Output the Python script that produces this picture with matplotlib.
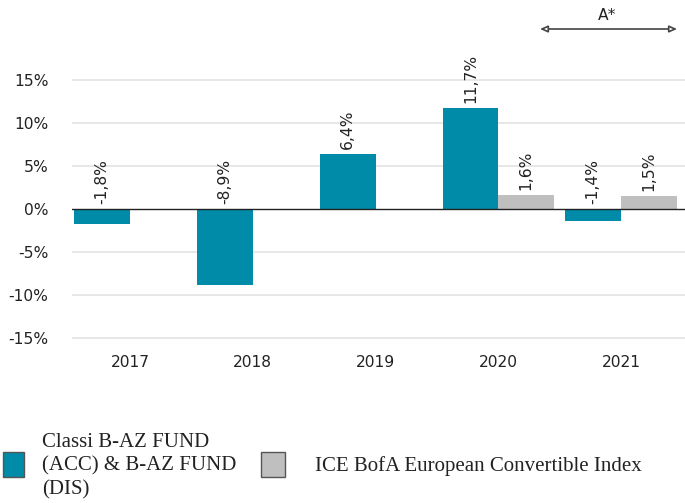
import matplotlib
matplotlib.use("Agg")
import matplotlib.pyplot as plt
from matplotlib.patches import Rectangle
import numpy as np

plt.rcParams["font.family"] = ["DejaVu Sans"]

years = ["2017", "2018", "2019", "2020", "2021"]
fund = [-1.8, -8.9, 6.4, 11.7, -1.4]
index = [None, None, None, 1.6, 1.5]
yticks = [-15, -10, -5, 0, 5, 10, 15]
fund_name = "Classi B-AZ FUND\n(ACC) & B-AZ FUND\n(DIS)"
index_name = "ICE BofA European Convertible Index"

TEAL = "#008BA8"
GRAY = "#BFBFBF"

W, H = 685, 503
fig = plt.figure(figsize=(W / 100, H / 100), dpi=100)
ax_l, ax_r, ax_t, ax_b = 72, 685, 45, 345
ax = fig.add_axes([ax_l / W, 1 - ax_b / H, (ax_r - ax_l) / W, (ax_b - ax_t) / H])

x = np.arange(len(years))
bw = 0.455
ax.bar(x - bw / 2, fund, width=bw, color=TEAL, zorder=3)
idx_x = [xi + bw / 2 for xi, v in zip(x, index) if v is not None]
idx_v = [v for v in index if v is not None]
ax.bar(idx_x, idx_v, width=bw, color=GRAY, zorder=3)

def fmt(v):
    return f"{v:.1f}%".replace(".", ",")

FS = 11.2
off = 0.6
for xi, v in zip(x - bw / 2, fund):
    ax.text(xi, max(v, 0) + off, fmt(v), rotation=90, ha="center", va="bottom", fontsize=FS, color="#222222")
for xi, v in zip(idx_x, idx_v):
    ax.text(xi, max(v, 0) + off, fmt(v), rotation=90, ha="center", va="bottom", fontsize=FS, color="#222222")

ax.set_xlim(-0.4725, 4.52)
ax.set_ylim(-15.85, 19.08)
ax.set_yticks(yticks)
ax.set_yticklabels([f"{t}%" for t in yticks], fontsize=FS, color="#222222")
ax.set_xticks(x)
ax.set_xticklabels(years, fontsize=FS, color="#222222")
ax.tick_params(length=0, pad=17, axis="y")
ax.tick_params(length=0, pad=7, axis="x")
for s in ax.spines.values():
    s.set_visible(False)
for t in yticks:
    if t != 0:
        ax.axhline(t, color="#E3E3E3", lw=1.2, zorder=1)
ax.axhline(0, color="#222222", lw=1.0, zorder=4)

# Arrow annotation A*
ax.annotate("", xy=(677 / W, 1 - 29 / H), xytext=(540 / W, 1 - 29 / H),
            xycoords=fig.transFigure, textcoords=fig.transFigure,
            arrowprops=dict(arrowstyle="<|-|>,head_length=0.45,head_width=0.2",
                            color="#444444", fc="white", lw=1.2, shrinkA=0, shrinkB=0))
fig.text(607 / W, 1 - 15 / H, "A*", ha="center", va="center", fontsize=FS, color="#222222")

# Legend
def px_rect(x0, y0, w, h, color):
    fig.patches.append(Rectangle((x0 / W, 1 - (y0 + h) / H), w / W, h / H,
                                 transform=fig.transFigure, facecolor=color,
                                 edgecolor="#555555", lw=1.0))

px_rect(3, 452, 21, 25, TEAL)
px_rect(261, 452, 24, 25, GRAY)
fig.text(42 / W, 1 - 466 / H, fund_name, ha="left", va="center", fontsize=15,
         family="Liberation Serif", color="#222222", linespacing=1.33)
fig.text(315 / W, 1 - 466 / H, index_name, ha="left", va="center", fontsize=15,
         family="Liberation Serif", color="#222222")

fig.savefig("out.png", dpi=100)
